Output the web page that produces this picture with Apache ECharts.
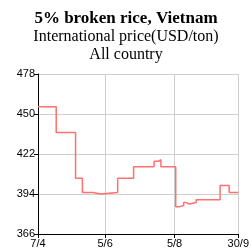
<!DOCTYPE html>
<html>
<head>
<meta charset="utf-8">
<script src="https://cdn.jsdelivr.net/npm/echarts@6/dist/echarts.min.js"></script>
<style>
  html, body { margin: 0; padding: 0; background: #fff; }
  #chart { width: 252px; height: 250px; }
</style>
</head>
<body>
<div id="chart"></div>
<script>
// ── data ──
const dates = [
  '2024-04-07', '2024-04-23', '2024-05-10', '2024-05-16', '2024-05-25',
  '2024-06-01', '2024-06-16', '2024-06-30', '2024-07-18', '2024-07-22',
  '2024-07-24', '2024-08-06', '2024-08-09', '2024-08-13', '2024-08-15',
  '2024-08-18', '2024-08-24', '2024-09-14', '2024-09-22', '2024-09-30'
]
const prices = [
  455, 437, 405, 395, 394,
  395, 405, 413, 417, 418,
  413, 385, 386, 388, 387,
  388, 390, 400, 395, 395
]
const xTicks = ['2024-04-07', '2024-06-05', '2024-08-05', '2024-09-30']
const yTicks = [366, 394, 422, 450, 478]

const ts = (d) => new Date(d + 'T00:00:00Z').getTime()

const chart = echarts.init(document.getElementById('chart'))
chart.setOption({
  animation: false,
  title: [
    { text: '5% broken rice, Vietnam', left: 'center', top: 5,
      textStyle: { fontFamily: 'Liberation Serif', fontSize: 17, fontWeight: 'bold', color: '#000' } },
    { text: 'International price(USD/ton)', left: 'center', top: 24,
      textStyle: { fontFamily: 'Liberation Serif', fontSize: 16, fontWeight: 'normal', color: '#000' } },
    { text: 'All country', left: 'center', top: 42,
      textStyle: { fontFamily: 'Liberation Serif', fontSize: 16, fontWeight: 'normal', color: '#000' } },
  ],
  grid: { left: 38, right: 11, top: 74, bottom: 16 },
  xAxis: {
    type: 'value',
    min: ts(xTicks[0]),
    max: ts(xTicks[xTicks.length - 1]),
    axisLine: { lineStyle: { color: '#000', width: 1 } },
    axisTick: { show: true, length: 4, lineStyle: { color: '#000' }, customValues: xTicks.map(ts) },
    axisLabel: {
      customValues: xTicks.map(ts),
      fontFamily: 'Liberation Sans', fontSize: 11, color: '#000', margin: 4,
      formatter: (v) => { const d = new Date(v); return d.getUTCDate() + '/' + (d.getUTCMonth() + 1) },
    },
    splitLine: { show: true, lineStyle: { color: '#cfcfcf', width: 1 } },
  },
  yAxis: {
    type: 'value',
    min: 366,
    max: 478,
    axisLine: { show: true, lineStyle: { color: '#000', width: 1 } },
    axisTick: { show: true, length: 4, lineStyle: { color: '#000' }, customValues: yTicks },
    axisLabel: { customValues: yTicks, fontFamily: 'Liberation Sans', fontSize: 11, color: '#000', margin: 3 },
    splitLine: { show: true, lineStyle: { color: '#cfcfcf', width: 1 } },
  },
  series: [{
    type: 'line',
    step: 'end',
    data: dates.map((d, i) => [ts(d), prices[i]]),
    showSymbol: false,
    lineStyle: { color: '#ff7070', width: 1.5 },
  }],
})
</script>
</body>
</html>
